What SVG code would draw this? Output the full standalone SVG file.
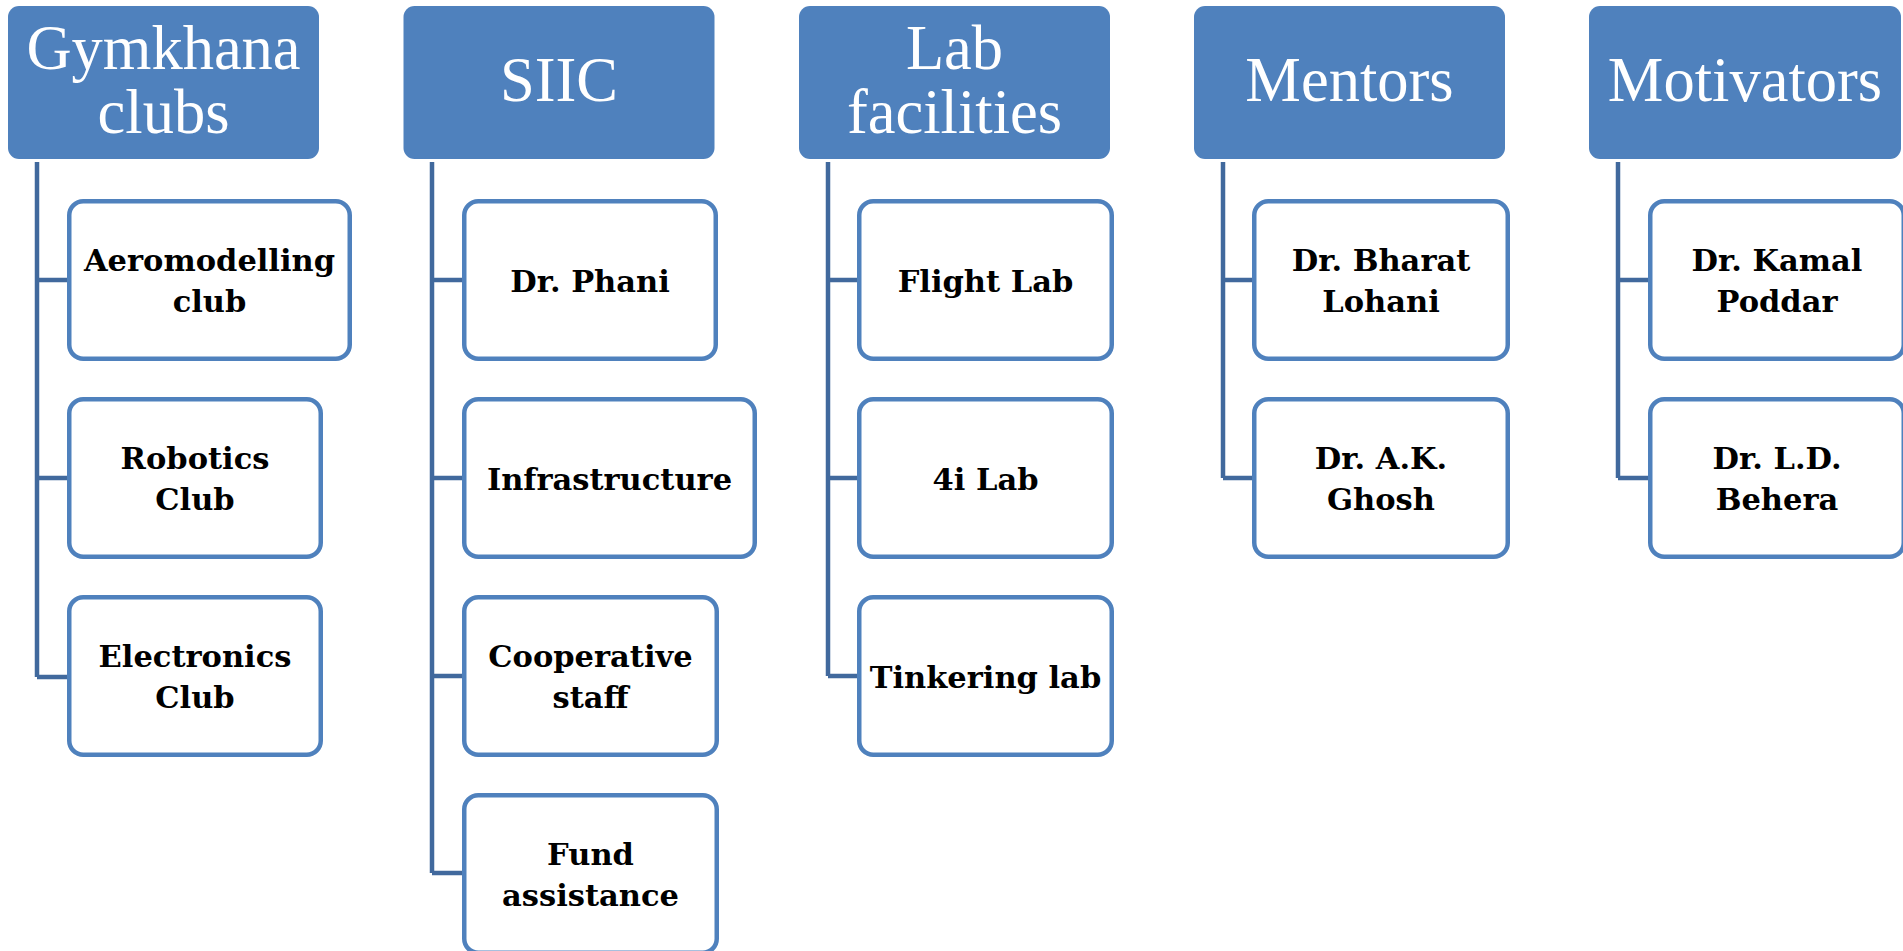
<svg xmlns="http://www.w3.org/2000/svg" width="1903" height="951" viewBox="0 0 1903 951">
<style>
.hdr{fill:#4F81BD}
.ht{fill:#FFFFFF;font-family:"Liberation Serif",serif;font-size:62.5px;text-anchor:middle}
.cb{fill:#FFFFFF;stroke:#4F81BD;stroke-width:4.5}
.ct{fill:#000000;font-family:"DejaVu Serif",serif;font-weight:bold;font-size:30.5px;text-anchor:middle}
.ln{fill:none;stroke:#41699D;stroke-width:4.5;stroke-linejoin:miter}
</style>
<rect width="1903" height="951" fill="#FFFFFF"/>
<g id="connectors">
<path class="ln" d="M37,162 V677 M37,280 H67 M37,478 H67 M37,677 H67"/>
<path class="ln" d="M432,162 V873 M432,280 H462 M432,478 H462 M432,676 H462 M432,873 H462"/>
<path class="ln" d="M828,162 V676 M828,280 H857 M828,478 H857 M828,676 H857"/>
<path class="ln" d="M1223,162 V478 M1223,280 H1252 M1223,478 H1252"/>
<path class="ln" d="M1618,162 V478 M1618,280 H1648 M1618,478 H1648"/>
</g>
<g id="gymkhana">
<rect class="hdr" x="8" y="6" width="311" height="153" rx="11"/>
<text class="ht" x="163.5"><tspan x="163.5" y="69">Gymkhana</tspan><tspan x="163.5" y="133">clubs</tspan></text>
</g>
<g id="aeromodelling">
<rect class="cb" x="69.25" y="201.25" width="280.5" height="157.5" rx="14"/>
<text class="ct"><tspan x="209.5" y="271">Aeromodelling</tspan><tspan x="209.5" y="312">club</tspan></text>
</g>
<g id="robotics">
<rect class="cb" x="69.25" y="399.25" width="251.5" height="157.5" rx="14"/>
<text class="ct"><tspan x="195" y="469">Robotics</tspan><tspan x="195" y="510">Club</tspan></text>
</g>
<g id="electronics">
<rect class="cb" x="69.25" y="597.25" width="251.5" height="157.5" rx="14"/>
<text class="ct"><tspan x="195" y="667">Electronics</tspan><tspan x="195" y="708">Club</tspan></text>
</g>
<g id="siic">
<rect class="hdr" x="403.5" y="6" width="311" height="153" rx="11"/>
<text class="ht" x="559" y="101">SIIC</text>
</g>
<g id="phani">
<rect class="cb" x="464.25" y="201.25" width="251.5" height="157.5" rx="14"/>
<text class="ct" x="590" y="292">Dr. Phani</text>
</g>
<g id="infrastructure">
<rect class="cb" x="464.25" y="399.25" width="290.5" height="157.5" rx="14"/>
<text class="ct" x="609.5" y="490">Infrastructure</text>
</g>
<g id="cooperative">
<rect class="cb" x="464.25" y="597.25" width="252.5" height="157.5" rx="14"/>
<text class="ct"><tspan x="590.5" y="667">Cooperative</tspan><tspan x="590.5" y="708">staff</tspan></text>
</g>
<g id="fund">
<rect class="cb" x="464.25" y="795.25" width="252.5" height="157.5" rx="14"/>
<text class="ct"><tspan x="590.5" y="865">Fund</tspan><tspan x="590.5" y="906">assistance</tspan></text>
</g>
<g id="lab">
<rect class="hdr" x="799" y="6" width="311" height="153" rx="11"/>
<text class="ht"><tspan x="954.5" y="69">Lab</tspan><tspan x="954.5" y="133">facilities</tspan></text>
</g>
<g id="flight">
<rect class="cb" x="859.25" y="201.25" width="252.5" height="157.5" rx="14"/>
<text class="ct" x="985.5" y="292">Flight Lab</text>
</g>
<g id="fouri">
<rect class="cb" x="859.25" y="399.25" width="252.5" height="157.5" rx="14"/>
<text class="ct" x="985.5" y="490">4i Lab</text>
</g>
<g id="tinkering">
<rect class="cb" x="859.25" y="597.25" width="252.5" height="157.5" rx="14"/>
<text class="ct" x="985.5" y="688">Tinkering lab</text>
</g>
<g id="mentors">
<rect class="hdr" x="1194" y="6" width="311" height="153" rx="11"/>
<text class="ht" x="1349.5" y="101">Mentors</text>
</g>
<g id="lohani">
<rect class="cb" x="1254.25" y="201.25" width="253.5" height="157.5" rx="14"/>
<text class="ct"><tspan x="1381" y="271">Dr. Bharat</tspan><tspan x="1381" y="312">Lohani</tspan></text>
</g>
<g id="ghosh">
<rect class="cb" x="1254.25" y="399.25" width="253.5" height="157.5" rx="14"/>
<text class="ct"><tspan x="1381" y="469">Dr. A.K.</tspan><tspan x="1381" y="510">Ghosh</tspan></text>
</g>
<g id="motivators">
<rect class="hdr" x="1589" y="6" width="312" height="153" rx="11"/>
<text class="ht" x="1745" y="101">Motivators</text>
</g>
<g id="poddar">
<rect class="cb" x="1650.25" y="201.25" width="253.5" height="157.5" rx="14"/>
<text class="ct"><tspan x="1777" y="271">Dr. Kamal</tspan><tspan x="1777" y="312">Poddar</tspan></text>
</g>
<g id="behera">
<rect class="cb" x="1650.25" y="399.25" width="253.5" height="157.5" rx="14"/>
<text class="ct"><tspan x="1777" y="469">Dr. L.D.</tspan><tspan x="1777" y="510">Behera</tspan></text>
</g>
</svg>
